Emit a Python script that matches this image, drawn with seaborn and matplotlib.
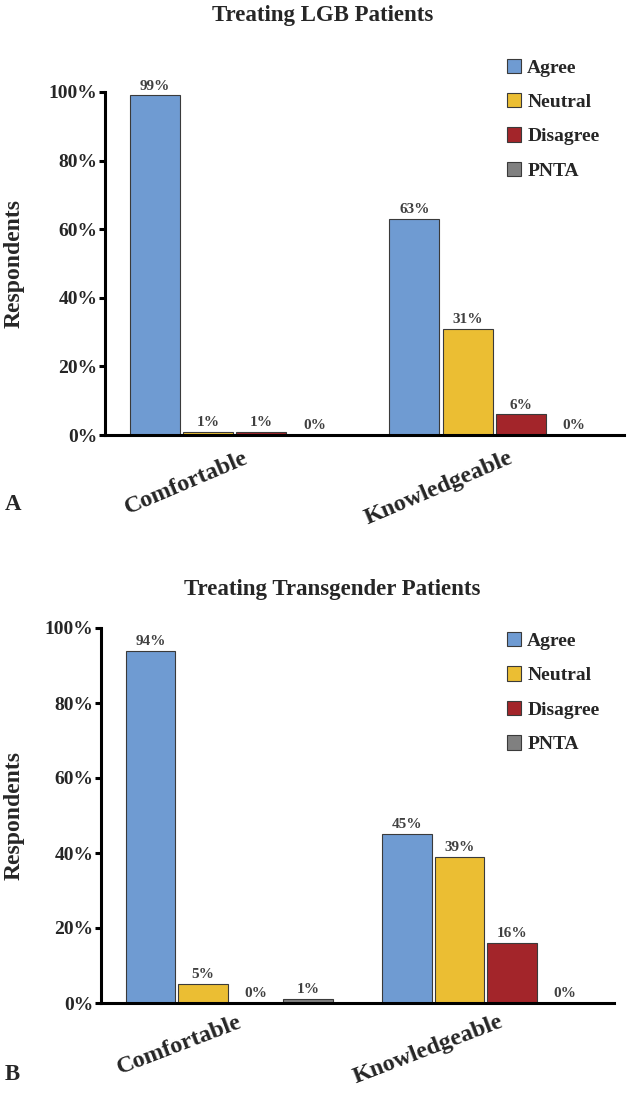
import matplotlib
matplotlib.use("Agg")
import matplotlib.pyplot as plt
import seaborn as sns
import pandas as pd
from matplotlib.ticker import FixedLocator

categories = ["Comfortable", "Knowledgeable"]
responses = ["Agree", "Neutral", "Disagree", "PNTA"]
lgb_values = {"Agree": [99, 63], "Neutral": [1, 31], "Disagree": [1, 6], "PNTA": [0, 0]}
trans_values = {"Agree": [94, 45], "Neutral": [5, 39], "Disagree": [0, 16], "PNTA": [1, 0]}
titles = ["Treating LGB Patients", "Treating Transgender Patients"]
panel_letters = ["A", "B"]
yticks = [0, 20, 40, 60, 80, 100]
colors = ["#6F9BD2", "#EBBE33", "#A3252A", "#808080"]

sns.set_style("white")
plt.rcParams['font.family'] = ['Liberation Serif', 'DejaVu Serif']
plt.rcParams['font.weight'] = 'bold'

fig = plt.figure(figsize=(6.28, 10.93), dpi=100)
W, H = 628, 1093

def make_df(vals):
    rows = []
    for r in responses:
        for c, v in zip(categories, vals[r]):
            rows.append({"Category": c, "Response": r, "Value": v})
    return pd.DataFrame(rows)

# (values, axes px box, title centre (x,y) px, letter y px, legend anchor y, label pad, rot)
panels = [
    (lgb_values, (105, 624, 92, 435), (323, 15), 505, 1.12, 9, 23),
    (trans_values, (101, 614, 628, 1003), (332, 590), 1075, 1.01, 6, 21),
]

for i, (vals, (x0, x1, yt, yb), (tx, ty), letter_y, leg_y, xpad, rot) in enumerate(panels):
    ax = fig.add_axes([x0 / W, 1 - yb / H, (x1 - x0) / W, (yb - yt) / H])
    df = make_df(vals)
    sns.barplot(data=df, x="Category", y="Value", hue="Response",
                hue_order=responses, order=categories, palette=colors,
                saturation=1, width=0.82, gap=0.06, edgecolor="#3a3a3a",
                linewidth=0.8, legend=False, ax=ax)
    for cont, r in zip(ax.containers, responses):
        ax.bar_label(cont, labels=[f"{v}%" for v in vals[r]], padding=2,
                     fontsize=11, color="#404040", fontweight='bold')
    ax.set_xlim(-0.5, 1.5)
    ax.set_ylim(0, 100)
    ax.set_yticks(yticks)
    ax.set_yticklabels([f"{t}%" for t in yticks], fontsize=14, fontweight='bold')
    ax.xaxis.set_minor_locator(FixedLocator([-0.5, 0.5, 1.5]))
    # label anchors nudged slightly right of the category centres (tick marks hidden)
    ax.set_xticks([0.03, 1.05])
    ax.set_xticklabels(categories, rotation=rot, fontsize=17.5, fontweight='bold',
                       ha='right', va='top', rotation_mode='anchor')
    ax.tick_params(axis='x', which='major', length=0, pad=xpad)
    ax.tick_params(axis='x', which='minor', length=6, width=2.2, direction='out', color='black')
    ax.tick_params(axis='y', length=4.3, width=2.2, direction='out', color='black',
                   left=True, pad=1)
    for s in ["top", "right"]:
        ax.spines[s].set_visible(False)
    for s in ["left", "bottom"]:
        ax.spines[s].set_linewidth(2.2)
        ax.spines[s].set_color("black")
    ax.set_xlabel("")
    ax.set_ylabel("Respondents", fontsize=17, fontweight='bold')
    ax.yaxis.set_label_coords((25 - x0) / (x1 - x0), 0.5)
    fig.text(tx / W, 1 - ty / H, titles[i], fontsize=16.5, fontweight='bold',
             ha='center', va='center')
    ax.legend(handles=ax.containers, labels=responses, loc='upper left',
              bbox_to_anchor=((499 - x0) / (x1 - x0), leg_y), frameon=False,
              prop={'family': 'Liberation Serif', 'weight': 'bold', 'size': 14},
              handlelength=0.75, handleheight=0.75, handletextpad=0.3,
              labelspacing=0.85, borderaxespad=0)
    fig.text(5 / W, 1 - letter_y / H, panel_letters[i], fontsize=16.5,
             fontweight='bold', ha='left', va='center')

fig.savefig("out.png", dpi=100)
